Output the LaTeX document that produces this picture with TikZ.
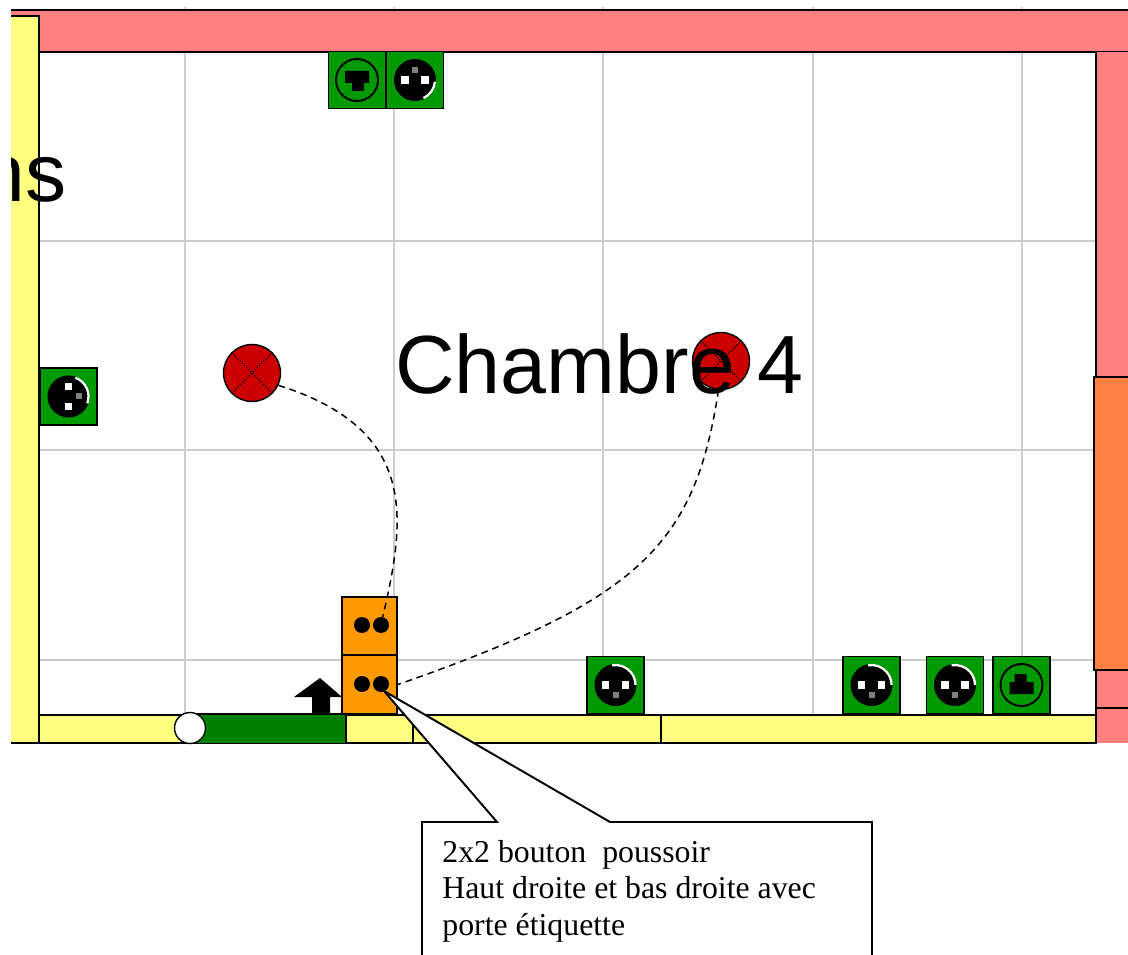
\documentclass[tikz,border=0pt]{standalone}
\usepackage{fontspec}
\setmainfont{Liberation Serif}
\newfontfamily\plansf{Liberation Sans}
\definecolor{rose}{RGB}{255,128,128}
\definecolor{jaune}{RGB}{255,255,128}
\definecolor{vert}{RGB}{0,153,0}
\definecolor{vertporte}{RGB}{0,128,0}
\definecolor{orangeb}{RGB}{255,153,0}
\definecolor{oranger}{RGB}{255,128,64}
\definecolor{rouge}{RGB}{204,0,0}
\definecolor{grille}{RGB}{205,205,205}
\tikzset{
  mur/.style={draw=black,line width=1.1pt},
  boitier/.style={draw=black,line width=1.1pt,fill=vert,minimum size=1.14cm,inner sep=0pt},
  noyau/.style={circle,fill=black,minimum size=0.84cm,inner sep=0pt},
  trou/.style={fill=white,minimum size=0.15cm,inner sep=0pt},
  terre/.style={fill=gray,minimum size=0.12cm,inner sep=0pt},
  bouton/.style={draw=black,line width=1.1pt,fill=orangeb,minimum width=1.1cm,minimum height=1.16cm,inner sep=0pt},
  picot/.style={circle,fill=black,minimum size=0.32cm,inner sep=0pt},
  lampe/.style={circle,draw=black,line width=0.8pt,fill=rouge,minimum size=1.14cm,inner sep=0pt},
  fil/.style={line width=0.85pt,dash pattern=on 3.8pt off 2.8pt},
}
% prise: nom, x, y, rotation, debut et fin du reflet
\newcommand{\prise}[6]{
  \node[boitier](#1)at(#2,#3){};
  \node[noyau](#1n)at(#1){};
  \draw[white,line width=1.3pt]($(#1)+(#5:20)$)arc[start angle=#5,end angle=#6,radius=20];
  \begin{scope}[shift={(#1)},rotate=#4]
    \node[trou](#1a)at(-10,0){};
    \node[trou](#1b)at(10,0){};
    \node[terre](#1c)at(0,10){};
  \end{scope}
}
% prise reseau: nom, x, y, rotation
\newcommand{\reseau}[4]{
  \node[boitier](#1)at(#2,#3){};
  \node[circle,draw=black,line width=1.1pt,minimum size=0.84cm,inner sep=0pt](#1n)at(#1){};
  \begin{scope}[shift={(#1)},rotate=#4]
    \fill[black](-12,-9)--(12,-9)--(12,3)--(7,3)--(7,11)--(-5,11)--(-5,3)--(-12,3)--cycle;
  \end{scope}
}
\usetikzlibrary{calc}

\begin{document}
\begin{tikzpicture}[x=0.02cm,y=-0.02cm]
  \useasboundingbox(0,0)rectangle(1128,955);
  \clip(11,0)rectangle(1128,955);
  % grille
  \draw[grille,line width=1.1pt](185,7)--(185,715);
  \draw[grille,line width=1.1pt](394,7)--(394,715);
  \draw[grille,line width=1.1pt](603,7)--(603,715);
  \draw[grille,line width=1.1pt](813,7)--(813,715);
  \draw[grille,line width=1.1pt](1022,7)--(1022,715);
  \draw[grille,line width=1.1pt](40,241)--(1096,241);
  \draw[grille,line width=1.1pt](40,450)--(1096,450);
  \draw[grille,line width=1.1pt](40,660)--(1096,660);
  % murs
  \draw[mur,fill=rose](5,10)rectangle(1140,52);
  \fill[rose](1096,52)rectangle(1140,743);
  \draw[mur](1096,52)--(1096,743);
  \draw[mur](1096,708)--(1140,708);
  \draw[mur,fill=oranger](1094,377)rectangle(1140,670);
  \draw[mur,fill=jaune](5,16)rectangle(39,743);
  \draw[mur,fill=jaune](39,715)rectangle(1096,743);
  \draw[mur](661,715)--(661,743);
  \fill[vertporte](197,714)rectangle(346,743);
  \draw[mur](197,714)--(346,714);
  \draw[mur,fill=jaune](346,715)rectangle(413,743);
  \node[circle,draw=black,line width=0.8pt,fill=white,minimum size=0.62cm,inner sep=0pt](pivot)at(190,728){};
  % equipements
  \reseau{rjhaut}{357}{80}{0}
  \prise{prhaut}{415}{80}{180}{65}{5}
  \prise{prgauche}{68.5}{396.5}{90}{-70}{20}
  \prise{prA}{615.5}{685}{0}{-100}{0}
  \prise{prB}{871.5}{685}{0}{-100}{0}
  \prise{prC}{955}{685}{0}{-100}{0}
  \reseau{rjbas}{1021.5}{685}{180}
  \fill[black](320,678)--(342,697)--(330,697)--(330,714)--(312,714)--(312,697)--(294,697)--cycle;
  \node[bouton](bhaut)at(369.5,626){};
  \node[bouton](bbas)at(369.5,684.5){};
  \node[picot](dotA)at(362,625){};
  \node[picot](dotB)at(381,625){};
  \node[picot](dotC)at(362,684){};
  \node[picot](dotD)at(381,684){};
  \node[lampe](lampeA)at(252,373){};
  \node[lampe](lampeB)at(721,361){};
  \draw[line width=0.7pt,densely dotted](lampeA.45)--(lampeA.225);
  \draw[line width=0.7pt,densely dotted](lampeA.135)--(lampeA.-45);
  \draw[line width=0.7pt,densely dotted](lampeB.45)--(lampeB.225);
  \draw[line width=0.7pt,densely dotted](lampeB.135)--(lampeB.-45);
  % textes du plan
  \node[anchor=base east,inner sep=0pt,font=\plansf\fontsize{46.8}{50}\selectfont](txtpiece)at(67,202){ns};
  \node[anchor=base west,inner sep=0pt,font=\plansf\fontsize{47}{50}\selectfont](txtchambre)at(395,394){Chambre 4};
  % fils
  \draw[fil](lampeA.-25)..controls(420,430)and(405,520)..(dotB);
  \draw[fil](lampeB.-95)..controls(695,545)and(640,600)..(bbas.east);
  % bulle
  \coordinate(pointe)at(384,691);
  \coordinate(B1)at(422,960);
  \coordinate(B2)at(422,822);
  \coordinate(B3)at(497,822);
  \coordinate(B4)at(610,822);
  \coordinate(B5)at(872,822);
  \coordinate(B6)at(872,960);
  \draw[line width=1.1pt,fill=white](B1)--(B2)--(B3)--(pointe)--(B4)--(B5)--(B6);
  \node[anchor=base west,inner sep=0pt,font=\fontsize{18.1}{20.7}\selectfont,align=left](txtbulle)at(442,935){2x2 bouton \ poussoir\\Haut droite et bas droite avec\\porte étiquette};
\end{tikzpicture}
\end{document}
